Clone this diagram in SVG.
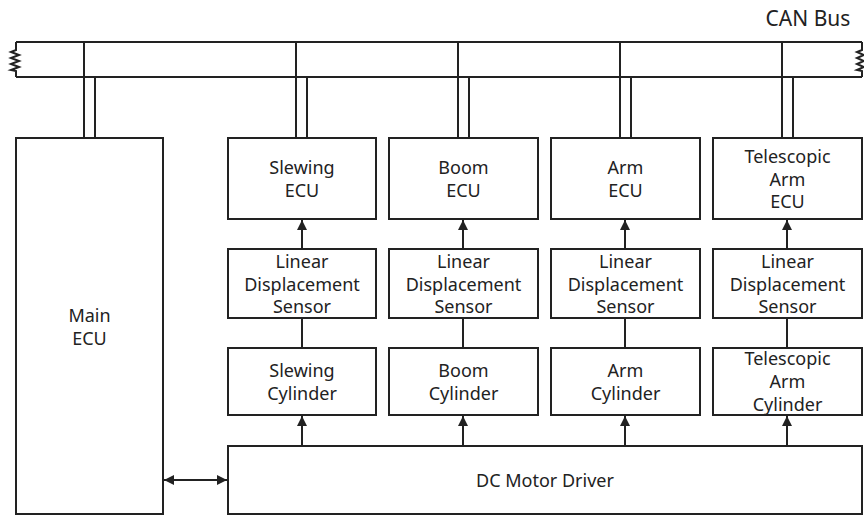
<svg xmlns="http://www.w3.org/2000/svg" width="864" height="515" viewBox="0 0 864 515">
<defs>
<marker id="ah" viewBox="0 0 10 10" refX="10" refY="5" markerWidth="10" markerHeight="10" markerUnits="userSpaceOnUse" orient="auto-start-reverse">
<path d="M0,0 L10,5 L0,10 z" fill="#222"/>
</marker>
<style>
.box{fill:#fff;stroke:#222;stroke-width:2}
.ln{fill:none;stroke:#222;stroke-width:2}
text{font-family:"Noto Sans","Open Sans",sans-serif;font-size:18px;fill:#222;text-anchor:middle}
</style>
</defs>
<rect width="864" height="515" fill="#fff"/>
<g id="bus">
<path class="ln" d="M16,42 H862 M16,77 H862"/>
<path class="ln" d="M16,42 V50 L11,52 L19,55 L11,58 L19,61 L11,64 L19,67 L11,70 L16,71 V77"/>
<path class="ln" d="M862,42 V50 L857,52 L864,55 L857,58 L864,61 L857,64 L864,67 L857,70 L862,71 V77"/>
<text x="808" y="26" style="font-size:21px">CAN Bus</text>
</g>
<g id="connectors">
<path class="ln" d="M84,42 V138 M95,77 V138"/>
<path class="ln" d="M296,42 V138 M307,77 V138"/>
<path class="ln" d="M458,42 V138 M469,77 V138"/>
<path class="ln" d="M620,42 V138 M631,77 V138"/>
<path class="ln" d="M782,42 V138 M793,77 V138"/>
<path class="ln" d="M302,249 V220" marker-end="url(#ah)"/>
<path class="ln" d="M463,249 V220" marker-end="url(#ah)"/>
<path class="ln" d="M625,249 V220" marker-end="url(#ah)"/>
<path class="ln" d="M787,249 V220" marker-end="url(#ah)"/>
<path class="ln" d="M302,318 V348 M463,318 V348 M625,318 V348 M787,318 V348"/>
<path class="ln" d="M302,446 V416" marker-end="url(#ah)"/>
<path class="ln" d="M463,446 V416" marker-end="url(#ah)"/>
<path class="ln" d="M625,446 V416" marker-end="url(#ah)"/>
<path class="ln" d="M787,446 V416" marker-end="url(#ah)"/>
<path class="ln" d="M164,480 H227" marker-start="url(#ah)" marker-end="url(#ah)"/>
</g>
<g id="main-ecu"><rect class="box" x="16" y="138" width="147" height="376"/><text x="89.5" y="322">Main</text><text x="89.5" y="345">ECU</text></g>
<g id="slewing-ecu"><rect class="box" x="228" y="138" width="148" height="81"/><text x="302" y="174">Slewing</text><text x="302" y="197">ECU</text></g>
<g id="boom-ecu"><rect class="box" x="389" y="138" width="149" height="81"/><text x="463.5" y="174">Boom</text><text x="463.5" y="197">ECU</text></g>
<g id="arm-ecu"><rect class="box" x="551" y="138" width="149" height="81"/><text x="625.5" y="174">Arm</text><text x="625.5" y="197">ECU</text></g>
<g id="tele-ecu"><rect class="box" x="713" y="138" width="149" height="81"/><text x="787.5" y="163">Telescopic</text><text x="787.5" y="186">Arm</text><text x="787.5" y="208">ECU</text></g>
<g id="sensor1"><rect class="box" x="228" y="249" width="148" height="69"/><text x="302" y="268">Linear</text><text x="302" y="291">Displacement</text><text x="302" y="313">Sensor</text></g>
<g id="sensor2"><rect class="box" x="389" y="249" width="149" height="69"/><text x="463.5" y="268">Linear</text><text x="463.5" y="291">Displacement</text><text x="463.5" y="313">Sensor</text></g>
<g id="sensor3"><rect class="box" x="551" y="249" width="149" height="69"/><text x="625.5" y="268">Linear</text><text x="625.5" y="291">Displacement</text><text x="625.5" y="313">Sensor</text></g>
<g id="sensor4"><rect class="box" x="713" y="249" width="149" height="69"/><text x="787.5" y="268">Linear</text><text x="787.5" y="291">Displacement</text><text x="787.5" y="313">Sensor</text></g>
<g id="slewing-cyl"><rect class="box" x="228" y="348" width="148" height="67"/><text x="302" y="377">Slewing</text><text x="302" y="400">Cylinder</text></g>
<g id="boom-cyl"><rect class="box" x="389" y="348" width="149" height="67"/><text x="463.5" y="377">Boom</text><text x="463.5" y="400">Cylinder</text></g>
<g id="arm-cyl"><rect class="box" x="551" y="348" width="149" height="67"/><text x="625.5" y="377">Arm</text><text x="625.5" y="400">Cylinder</text></g>
<g id="tele-cyl"><rect class="box" x="713" y="348" width="149" height="67"/><text x="787.5" y="365">Telescopic</text><text x="787.5" y="388">Arm</text><text x="787.5" y="411">Cylinder</text></g>
<g id="dc-motor"><rect class="box" x="228" y="446" width="634" height="68"/><text x="545" y="487">DC Motor Driver</text></g>
</svg>
